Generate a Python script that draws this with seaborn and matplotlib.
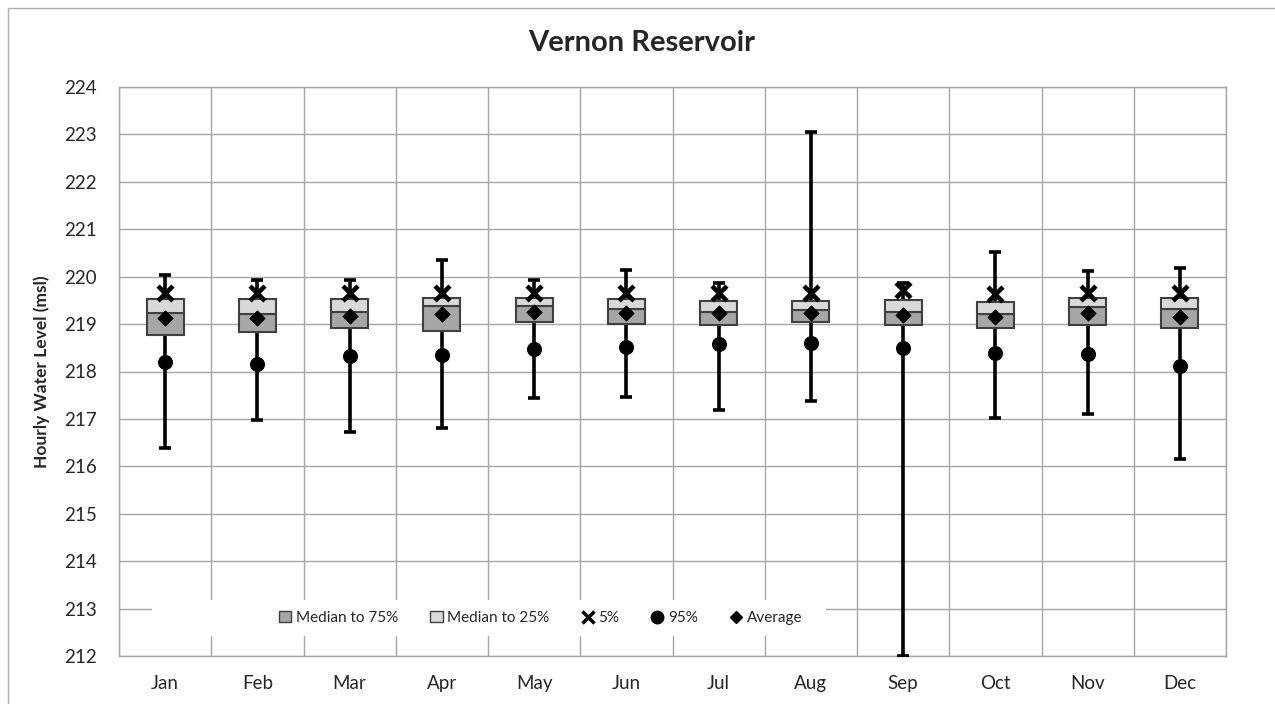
import matplotlib
matplotlib.use("Agg")
import matplotlib.pyplot as plt
import seaborn as sns
import numpy as np
import pandas as pd
from matplotlib.patches import Patch, Rectangle
from matplotlib.lines import Line2D

months = ["Jan", "Feb", "Mar", "Apr", "May", "Jun", "Jul", "Aug", "Sep", "Oct", "Nov", "Dec"]
max_level = [220.03, 219.94, 219.94, 220.35, 219.94, 220.15, 219.86, 223.05, 219.87, 220.52, 220.12, 220.18]
min_level = [216.39, 216.98, 216.72, 216.81, 217.45, 217.47, 217.18, 217.38, 212.00, 217.01, 217.10, 216.15]
q75 = [219.53, 219.52, 219.52, 219.54, 219.54, 219.52, 219.49, 219.49, 219.51, 219.46, 219.54, 219.54]
median = [219.24, 219.21, 219.26, 219.39, 219.39, 219.32, 219.26, 219.30, 219.26, 219.21, 219.37, 219.32]
q25 = [218.77, 218.83, 218.91, 218.86, 219.05, 219.00, 218.99, 219.05, 218.98, 218.92, 218.99, 218.92]
p5 = [219.66, 219.66, 219.66, 219.66, 219.66, 219.66, 219.66, 219.66, 219.72, 219.63, 219.66, 219.66]
p95 = [218.19, 218.15, 218.33, 218.35, 218.47, 218.52, 218.58, 218.61, 218.49, 218.38, 218.36, 218.12]
average = [219.13, 219.12, 219.18, 219.21, 219.26, 219.23, 219.23, 219.23, 219.20, 219.14, 219.23, 219.14]

df = pd.DataFrame({"month": months, "max": max_level, "min": min_level, "q75": q75,
                   "median": median, "q25": q25, "p5": p5, "p95": p95, "avg": average})

sns.set_style("white")
plt.rcParams["font.family"] = ["Lato", "DejaVu Sans"]

fig = plt.figure(figsize=(12.75, 7.04), dpi=100)
ax = fig.add_axes([119 / 1275, 1 - 656 / 704, 1107 / 1275, 569 / 704])

grid_c = "#a6a6a6"
x = np.arange(len(months))

# whiskers (min to max)
mid = (df["max"] + df["min"]) / 2
ax.errorbar(x, mid, yerr=[mid - df["min"], df["max"] - mid], fmt="none",
            ecolor="black", elinewidth=2.6, capsize=4.5, capthick=2.6, zorder=3)

# boxes
box_w = 0.40
ax.bar(x, df["median"] - df["q25"], bottom=df["q25"], width=box_w,
       color="#a6a6a6", edgecolor="#404040", linewidth=1.5, zorder=4)
ax.bar(x, df["q75"] - df["median"], bottom=df["median"], width=box_w,
       color="#d9d9d9", edgecolor="#404040", linewidth=1.5, zorder=4)

# markers
sns.scatterplot(data=df, x="month", y="p5", marker="x", s=115, linewidth=3.3,
                color="black", ax=ax, zorder=5)
sns.scatterplot(data=df, x="month", y="p95", marker="o", s=100, color="black",
                edgecolor="black", ax=ax, zorder=5)
sns.scatterplot(data=df, x="month", y="avg", marker="D", s=60, color="black",
                edgecolor="black", ax=ax, zorder=6)

ax.set_xlim(-0.5, 11.5)
ax.set_ylim(212, 224)
ax.set_yticks(np.arange(212, 225, 1))
ax.set_xticks(x)
ax.set_xticklabels(months)
ax.set_xticks(np.arange(-0.5, 12, 1), minor=True)
ax.grid(True, which="minor", axis="x", color=grid_c, linewidth=1)
ax.grid(True, which="major", axis="y", color=grid_c, linewidth=1)
ax.set_axisbelow(True)
ax.tick_params(axis="x", which="major", length=0, labelsize=13.5, pad=14)
ax.tick_params(axis="x", which="minor", length=8, color=grid_c)
ax.tick_params(axis="y", length=6, color=grid_c, labelsize=13.5, pad=10)
for s in ax.spines.values():
    s.set_color(grid_c)
    s.set_linewidth(1)

ax.set_xlabel("")
ax.set_ylabel("Hourly Water Level (msl)", fontsize=12.5, fontweight="bold", labelpad=10)
fig.text(0.503, 1 - 43 / 704, "Vernon Reservoir", ha="center", va="center",
         fontsize=21, fontweight="bold")

# white backing behind the legend, hides the gridlines like the original
ax.add_patch(Rectangle(((152 - 119) / 1107, (656 - 636) / 569), (826 - 152) / 1107, 36 / 569,
                       transform=ax.transAxes, facecolor="white", edgecolor="none", zorder=2))

handles = [
    Patch(facecolor="#a6a6a6", edgecolor="#404040", label="Median to 75%"),
    Patch(facecolor="#d9d9d9", edgecolor="#404040", label="Median to 25%"),
    Line2D([], [], marker="x", color="black", linestyle="none", markersize=8,
           markeredgewidth=2.5, label="5%"),
    Line2D([], [], marker="o", color="black", linestyle="none", markersize=9, label="95%"),
    Line2D([], [], marker="D", color="black", linestyle="none", markersize=6, label="Average"),
]
leg = ax.legend(handles=handles, loc="center", bbox_to_anchor=(0.381, 0.067), ncol=5,
                frameon=False, fontsize=11, handlelength=0.8, handletextpad=0.3,
                columnspacing=2.1)
leg.set_zorder(7)

fig.patches.append(Rectangle((8 / 1275, -0.02), 1.1, 1 - 8 / 704 + 0.02,
                             transform=fig.transFigure, fill=False,
                             edgecolor="#b0b0b0", linewidth=1))

fig.savefig("out.png", dpi=100)
